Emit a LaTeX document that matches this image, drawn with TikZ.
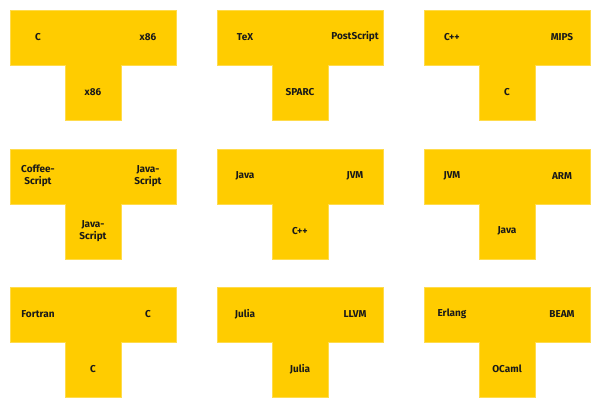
\documentclass[tikz,border=0pt]{standalone}
\usepackage{fontspec}
\setmainfont{Fira Sans}
\definecolor{tyellow}{HTML}{FFCC00}
\tikzset{
  tshape/.style={fill=tyellow, draw=tyellow!70!white, line width=0.4pt},
  tlabel/.style={font=\fontsize{10}{12}\selectfont\bfseries, align=center, inner sep=0pt, text=black!90}
}
\newcommand\tdiagram[6]{%
  % #1 name, #2 x, #3 y, #4 left, #5 right, #6 bottom
  \draw[tshape] (#2,#3) -- ++(166,0) -- ++(0,55) -- ++(-55,0) -- ++(0,55) -- ++(-56,0) -- ++(0,-55) -- ++(-55,0) -- cycle;
  \node[tlabel] (#1l) at (#2+28,#3+27) {#4};
  \node[tlabel] (#1r) at (#2+138,#3+27) {#5};
  \node[tlabel] (#1b) at (#2+83,#3+82) {#6};
}
\begin{document}
\begin{tikzpicture}[x=1pt,y=-1pt]
\useasboundingbox (0,0) rectangle (600,408);
\tdiagram{a}{10}{10}{C}{x86}{x86}
\tdiagram{b}{217}{10}{TeX}{PostScript}{SPARC}
\tdiagram{c}{424}{10}{C++}{MIPS}{C}
\tdiagram{d}{10}{149}{Coffee-\\Script}{Java-\\Script}{Java-\\Script}
\tdiagram{e}{217}{149}{Java}{JVM}{C++}
\tdiagram{f}{424}{149}{JVM}{ARM}{Java}
\tdiagram{g}{10}{287}{Fortran}{C}{C}
\tdiagram{h}{217}{287}{Julia}{LLVM}{Julia}
\tdiagram{i}{424}{287}{Erlang}{BEAM}{OCaml}
\end{tikzpicture}
\end{document}
